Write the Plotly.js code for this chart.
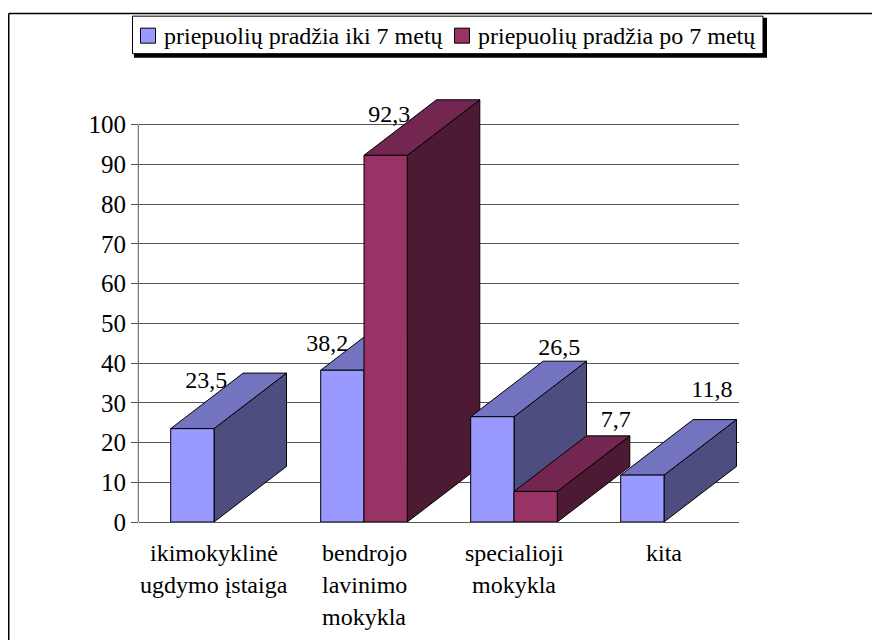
<!DOCTYPE html>
<html><head><meta charset="utf-8">
<script src="https://cdn.plot.ly/plotly-3.0.1.min.js"></script>
<style>html,body{margin:0;padding:0;background:#fff}</style>
</head><body><div id="chart" style="width:872px;height:640px"></div>
<script>
const categoryLines = [["ikimokyklinė","ugdymo įstaiga"],["bendrojo","lavinimo","mokykla"],["specialioji","mokykla"],["kita"]];
const categoryPositions = [1,2,3,4];
const seriesNames = ["priepuolių pradžia iki 7 metų","priepuolių pradžia po 7 metų"];
const earlyOnset = [23.5,38.2,26.5,11.8];
const lateOnset = [null,92.3,7.7,null];
const yTicks = [0,10,20,30,40,50,60,70,80,90,100];

const plotL = 139, plotB = 522, plotW = 600, yMax = 110;
const pxX = 150, pxY = 3.97;              // plot pixels per axis unit
const plotH = yMax*pxY;
const barW = 43.3/pxX, depthX = 72.5/pxX, depthY = 55.5/pxY;
const palette = [
  {front:"#9999FF",top:"#7373BF",side:"#4D4D80"},
  {front:"#993366",top:"#732650",side:"#4D1A33"}];
const font = "'Liberation Serif','Times New Roman',serif";
const labelShift = [ // pixel offset of each value label from its bar's front-top centre
  [[14,-47],[-15,-25.5],[67,-68],[69.5,-84.5]],
  [null,[3.5,-39.5],[80,-70.5],null]];
const px = v => (v-plotL)/plotW, py = v => (plotB-v)/plotH;

function face(xs,ys,fill){
  return {type:"scatter",mode:"lines",x:xs.concat(xs[0]),y:ys.concat(ys[0]),fill:"toself",fillcolor:fill,
    line:{color:"#000",width:1},showlegend:false,hoverinfo:"skip"};
}
const faces = [], lx = [], ly = [], lt = [];
const fmt = v => String(v).replace(".",",");
categoryPositions.forEach((c,i)=>{
  [earlyOnset,lateOnset].forEach((s,k)=>{
    const v = s[i];
    if(v===null) return;
    const x0 = c-barW+k*barW, x1 = x0+barW, p = palette[k];
    faces.push(face([x1,x1+depthX,x1+depthX,x1],[0,depthY,v+depthY,v],p.side));
    faces.push(face([x0,x1,x1+depthX,x0+depthX],[v,v,v+depthY,v+depthY],p.top));
    faces.push(face([x0,x1,x1,x0],[0,0,v,v],p.front));
    const sh = labelShift[k][i];
    lx.push((x0+x1)/2+sh[0]/pxX); ly.push(v-sh[1]/pxY); lt.push(fmt(v));
  });
});
const labels = {type:"scatter",mode:"text",x:lx,y:ly,text:lt,textposition:"middle center",
  textfont:{family:font,size:24,color:"#000"},cliponaxis:false,showlegend:false,hoverinfo:"skip"};

const annotations = [];
categoryLines.forEach((lines,i)=>lines.forEach((t,j)=>annotations.push({
  x:categoryPositions[i],xref:"x",y:0,yref:"y",yanchor:"middle",xanchor:"center",showarrow:false,
  text:t,yshift:-(31+j*32),font:{family:font,size:24,color:"#000"}})));

// legend box, drawn to the reference's tight spacing
const legendTextX = [162,476], legendMarkX = [140,454];
seriesNames.forEach((n,k)=>annotations.push({x:px(legendTextX[k]),xref:"paper",y:py(36.5),yref:"paper",
  xanchor:"left",yanchor:"middle",showarrow:false,text:n,font:{family:font,size:24,color:"#000"}}));
const rect = (x0,y0,x1,y1,fill,line) => ({type:"rect",xref:"paper",yref:"paper",x0:px(x0),x1:px(x1),y0:py(y0),y1:py(y1),
  fillcolor:fill,line:{color:"#000",width:line}});
const frameLine = (x0,y0,x1,y1) => ({type:"line",xref:"paper",yref:"paper",x0:px(x0),x1:px(x1),y0:py(y0),y1:py(y1),
  line:{color:"#000",width:1.5}});
const shapes = [
  frameLine(8.75,13.75,872,13.75), frameLine(8.75,13.75,8.75,640),
  {type:"line",layer:"below",xref:"paper",yref:"y",x0:-0.0012,x1:-0.0012,y0:0,y1:100,line:{color:"#555",width:1}},
  rect(134,18,767,58,"#000",0), rect(132.5,16.5,763,54,"#fff",1),
  rect(140.5,28.5,155.5,43.5,palette[0].front,1), rect(454.5,28.5,469.5,43.5,palette[1].front,1)
];

Plotly.newPlot("chart",[labels,...faces],{
  width:872,height:640,autosize:false,showlegend:false,
  margin:{l:plotL,r:872-plotL-plotW,t:plotB-plotH,b:640-plotB,pad:0,autoexpand:false},
  paper_bgcolor:"#fff",plot_bgcolor:"#fff",hovermode:false,
  font:{family:font,size:24,color:"#000"},
  xaxis:{range:[0.5,4.5],tickvals:[],showgrid:false,zeroline:false,showline:true,linecolor:"#555",linewidth:1,fixedrange:true},
  yaxis:{range:[0,yMax],tickvals:yTicks,ticks:"outside",ticklen:7,tickcolor:"#555",gridcolor:"#555",gridwidth:1,
    showline:false,zeroline:false,tickfont:{family:font,size:25,color:"#000"},fixedrange:true},
  annotations:annotations,
  shapes:shapes
},{staticPlot:true,displayModeBar:false});
</script></body></html>
